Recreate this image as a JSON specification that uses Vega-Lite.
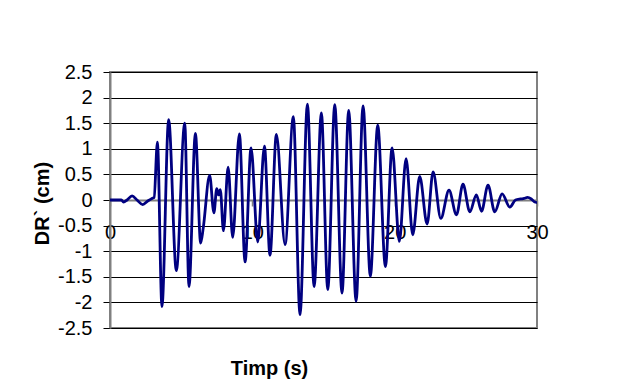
{
  "$schema": "https://vega.github.io/schema/vega-lite/v6.json",
  "width": 427,
  "height": 256,
  "autosize": {"type": "none"},
  "padding": {"left": 110, "top": 72, "right": 101, "bottom": 55},
  "background": "white",
  "config": {
    "view": {"stroke": "#808080", "strokeWidth": 2},
    "font": "Liberation Sans"
  },
  "data": {"values": [
    {"t": 0, "v": 0}, {"t": 0.5, "v": 0}, {"t": 0.8, "v": 0}, {"t": 0.95, "v": -0.04},
    {"t": 1.2, "v": 0.0}, {"t": 1.55, "v": 0.08}, {"t": 1.9, "v": 0.0}, {"t": 2.3, "v": -0.09},
    {"t": 2.65, "v": -0.02}, {"t": 2.95, "v": 0.03}, {"t": 3.1, "v": 0.05}, {"t": 3.33, "v": 1.13},
    {"t": 3.65, "v": -2.08}, {"t": 4.12, "v": 1.57}, {"t": 4.66, "v": -1.38}, {"t": 5.25, "v": 1.5},
    {"t": 5.55, "v": -1.69}, {"t": 6.0, "v": 1.3}, {"t": 6.37, "v": -0.84}, {"t": 6.55, "v": -0.55},
    {"t": 7.0, "v": 0.48}, {"t": 7.3, "v": -0.25}, {"t": 7.5, "v": 0.22}, {"t": 7.62, "v": 0.1},
    {"t": 7.75, "v": 0.2}, {"t": 7.97, "v": -0.6}, {"t": 8.3, "v": 0.64}, {"t": 8.62, "v": -0.73},
    {"t": 9.09, "v": 1.29}, {"t": 9.49, "v": -1.21}, {"t": 9.91, "v": 1.02}, {"t": 10.38, "v": -0.82},
    {"t": 10.85, "v": 1.05}, {"t": 11.24, "v": -1.08}, {"t": 11.69, "v": 1.28}, {"t": 12.3, "v": -0.87},
    {"t": 12.88, "v": 1.63}, {"t": 13.35, "v": -2.24}, {"t": 13.87, "v": 1.87}, {"t": 14.34, "v": -1.69},
    {"t": 14.85, "v": 1.7}, {"t": 15.3, "v": -1.75}, {"t": 15.79, "v": 1.86}, {"t": 16.3, "v": -1.82},
    {"t": 16.77, "v": 1.75}, {"t": 17.29, "v": -1.98}, {"t": 17.78, "v": 1.84}, {"t": 18.29, "v": -1.49},
    {"t": 18.81, "v": 1.46}, {"t": 19.35, "v": -1.3}, {"t": 19.82, "v": 1.02}, {"t": 20.33, "v": -0.81},
    {"t": 20.8, "v": 0.81}, {"t": 21.27, "v": -0.68}, {"t": 21.76, "v": 0.46}, {"t": 22.28, "v": -0.47},
    {"t": 22.7, "v": 0.55}, {"t": 23.24, "v": -0.36}, {"t": 23.82, "v": 0.19}, {"t": 24.34, "v": -0.29},
    {"t": 24.8, "v": 0.31}, {"t": 25.28, "v": -0.23}, {"t": 25.74, "v": 0.1}, {"t": 26.1, "v": -0.22},
    {"t": 26.56, "v": 0.29}, {"t": 27.03, "v": -0.23}, {"t": 27.55, "v": 0.12}, {"t": 28.09, "v": -0.14},
    {"t": 28.49, "v": 0.0}, {"t": 28.85, "v": 0.02}, {"t": 29.1, "v": 0.03}, {"t": 29.33, "v": 0.05},
    {"t": 29.6, "v": 0.02}, {"t": 29.84, "v": -0.04}, {"t": 30, "v": -0.05}
  ]},
  "mark": {"type": "line", "color": "#000080", "strokeWidth": 2.8, "interpolate": "monotone", "clip": true},
  "encoding": {
    "x": {
      "field": "t", "type": "quantitative",
      "scale": {"domain": [0, 30], "nice": false, "zero": false},
      "axis": {
        "title": "Timp (s)",
        "titleFont": "Liberation Sans", "titleFontSize": 20, "titleFontWeight": "bold", "titleColor": "black",
        "titleX": 159, "titleY": 174, "titleBaseline": "alphabetic", "titleAlign": "center",
        "values": [0, 10, 20, 30],
        "labelExpr": "toString(datum.value)",
        "labelFont": "Liberation Sans", "labelFontSize": 20, "labelColor": "black",
        "labelPadding": 16, "labelFlush": false, "labelOverlap": false,
        "offset": -128,
        "grid": false,
        "domainColor": "#808080", "domainWidth": 2,
        "tickColor": "#808080", "tickSize": 6, "tickWidth": 1.5
      }
    },
    "y": {
      "field": "v", "type": "quantitative",
      "scale": {"domain": [-2.5, 2.5], "nice": false, "zero": false},
      "axis": {
        "title": "DR` (cm)",
        "titleFont": "Liberation Sans", "titleFontSize": 20, "titleFontWeight": "bold", "titleColor": "black",
        "titleX": -68, "titleY": 131, "titleAngle": -90, "titleAlign": "center", "titleBaseline": "middle",
        "values": [-2.5, -2, -1.5, -1, -0.5, 0, 0.5, 1, 1.5, 2, 2.5],
        "labelExpr": "toString(datum.value)",
        "labelFont": "Liberation Sans", "labelFontSize": 20, "labelColor": "black",
        "labelPadding": 11, "labelOverlap": false, "labelFlush": false,
        "grid": true,
        "gridColor": {"condition": {"test": "datum.value === 0", "value": "#808080"}, "value": "#000000"},
        "gridWidth": 1,
        "domainColor": "#808080", "domainWidth": 2,
        "tickColor": "#000000", "tickSize": 7, "tickWidth": 1
      }
    }
  }
}
